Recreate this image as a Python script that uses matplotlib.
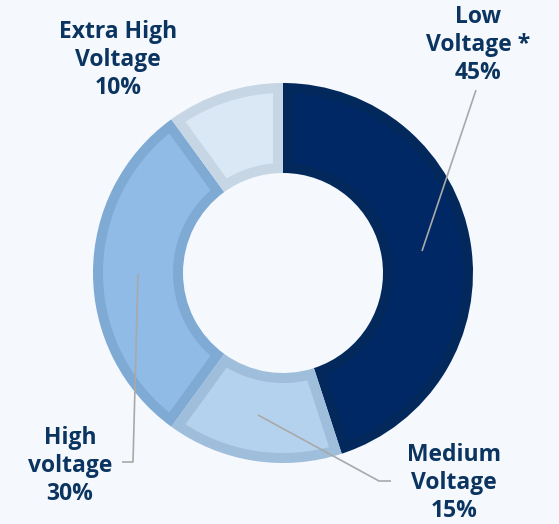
import numpy as np
import matplotlib.pyplot as plt
from matplotlib.patches import Polygon

labels = ['Low\nVoltage *', 'Medium\nVoltage', 'High\nvoltage', 'Extra High\nVoltage']
values = [45, 15, 30, 10]
fills = ['#002865', '#b4d2ee', '#8fbbe6', '#dae7f4']
borders = ['#03295c', '#9fbedc', '#7eaad4', '#c7d6e4']

bg = '#f5f8fc'
txt = '#0b3560'
W, H = 559, 524

fig = plt.figure(figsize=(W / 100, H / 100), dpi=100, facecolor=bg)
ax = fig.add_axes([0, 0, 1, 1])
ax.axis('off')

cx, cy = 283, H - 273
R, r = 190, 100
b = 10  # border thickness (px)

# outer wedges in border colour
wedges, _ = ax.pie(values, startangle=90, counterclock=False, radius=R,
                   center=(cx, cy), colors=borders,
                   wedgeprops=dict(width=R - r, linewidth=0))
ax.set_xlim(0, W)
ax.set_ylim(0, H)
ax.set_aspect('equal')

# inset fill for each wedge
for w, fc in zip(wedges, fills):
    t1, t2 = np.radians(w.theta1), np.radians(w.theta2)
    ro, ri = R - b, r + b
    ao, ai = np.arcsin(b / ro), np.arcsin(b / ri)
    to = np.linspace(t1 + ao, t2 - ao, 200)
    ti = np.linspace(t2 - ai, t1 + ai, 200)
    xs = np.concatenate([cx + ro * np.cos(to), cx + ri * np.cos(ti)])
    ys = np.concatenate([cy + ro * np.sin(to), cy + ri * np.sin(ti)])
    ax.add_patch(Polygon(np.column_stack([xs, ys]), closed=True,
                         facecolor=fc, edgecolor='none'))

# label positions (pixels from top-left) and leader lines
pos = [(478, 45), (454, 483), (70, 466), (118, 60)]
leaders = [
    [(422, 251), (476, 90)],
    [(258, 415), (379, 481), (391, 481)],
    [(138, 274), (133, 462), (122, 462)],
    None,
]

for lab, v, (x, y), ld in zip(labels, values, pos, leaders):
    ax.text(x, H - y, f'{lab}\n{v}%', ha='center', va='center', color=txt,
            fontsize=16.5, fontweight='bold', family='Open Sans',
            linespacing=1.2)
    if ld:
        ax.plot([p[0] for p in ld], [H - p[1] for p in ld], color='#a9a9a9',
                lw=1.2, solid_capstyle='butt')

fig.savefig('out.png', dpi=100, facecolor=bg)
